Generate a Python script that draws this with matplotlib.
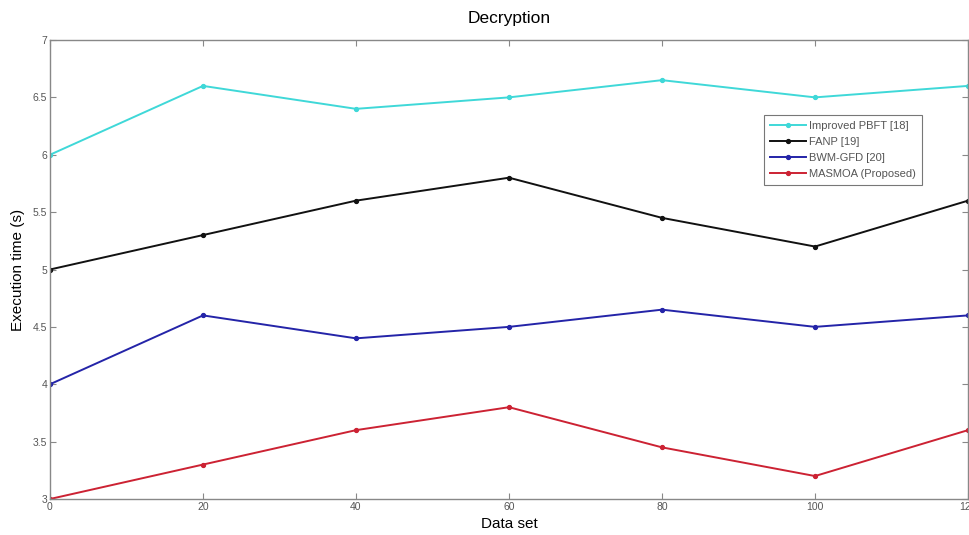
import matplotlib
matplotlib.use('Agg')
import matplotlib.pyplot as plt

plt.rcParams['font.family'] = ['Liberation Sans', 'DejaVu Sans']

data_set = [0, 20, 40, 60, 80, 100, 120]
pbft = [6.0, 6.6, 6.4, 6.5, 6.65, 6.5, 6.6]
fanp = [5.0, 5.3, 5.6, 5.8, 5.45, 5.2, 5.6]
bwm_gfd = [4.0, 4.6, 4.4, 4.5, 4.65, 4.5, 4.6]
masmoa = [3.0, 3.3, 3.6, 3.8, 3.45, 3.2, 3.6]

names = ['Improved PBFT [18]', 'FANP [19]', 'BWM-GFD [20]', 'MASMOA (Proposed)']
colors = ['#3fd8d8', '#111111', '#2424a8', '#cc2233']

fig = plt.figure(figsize=(9.7, 5.35), dpi=100)
ax = fig.add_axes([50/970, 1 - 499/535, 918/970, 459/535])

for ys, name, c in zip([pbft, fanp, bwm_gfd, masmoa], names, colors):
    ax.plot(data_set, ys, color=c, lw=1.4, marker='o', ms=2.8, label=name)

ax.set_xlim(0, 120)
ax.set_ylim(3, 7)
ax.set_xticks(data_set)
ax.set_yticks([3, 3.5, 4, 4.5, 5, 5.5, 6, 6.5, 7])
ax.set_yticklabels(['3', '3.5', '4', '4.5', '5', '5.5', '6', '6.5', '7'])
ax.tick_params(direction='in', top=True, right=True, length=4, width=0.8,
               labelsize=7.5, colors='#888888', labelcolor='#555555', pad=2)
for s in ax.spines.values():
    s.set_color('#888888')
    s.set_linewidth(1.0)

ax.set_title('Decryption', fontsize=12.5, pad=12)
ax.set_xlabel('Data set', fontsize=11, labelpad=4)
ax.set_ylabel('Execution time (s)', fontsize=11, labelpad=6)

leg = ax.legend(loc='upper left', bbox_to_anchor=(0.778, 0.836), fontsize=8,
                frameon=True, fancybox=False, borderpad=0.5, handlelength=3.3,
                labelspacing=0.55, handletextpad=0.25, borderaxespad=0)
leg.get_frame().set_edgecolor('#555555')
leg.get_frame().set_linewidth(0.8)
for t in leg.get_texts():
    t.set_color('#555555')

fig.savefig('out.png', dpi=100)
